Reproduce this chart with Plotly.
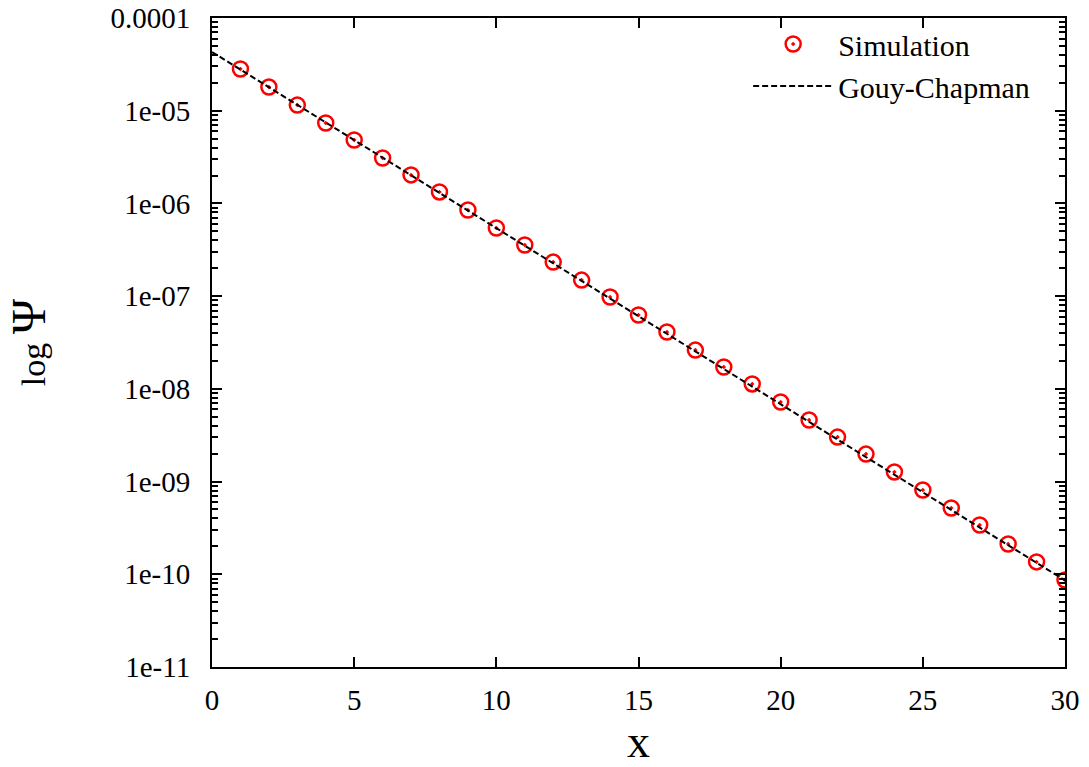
import plotly.graph_objects as go

# Simulation data
sim_x = list(range(1, 31))
sim_y = [2.82e-5, 1.80e-5, 1.15e-5, 7.37e-6, 4.83e-6, 3.09e-6, 2.03e-6, 1.33e-6,
         8.49e-7, 5.43e-7, 3.56e-7, 2.33e-7, 1.49e-7, 9.78e-8, 6.26e-8, 4.10e-8,
         2.62e-8, 1.72e-8, 1.13e-8, 7.21e-9, 4.61e-9, 3.02e-9, 1.98e-9, 1.27e-9,
         8.11e-10, 5.19e-10, 3.40e-10, 2.12e-10, 1.36e-10, 8.67e-11]

# Gouy-Chapman theory line (straight on a log axis)
gc_x = [0, 30]
gc_y = [4.3e-5, 8.6e-11]

y_tickvals = [1e-4, 1e-5, 1e-6, 1e-7, 1e-8, 1e-9, 1e-10, 1e-11]
y_ticktext = ["0.0001", "1e-05", "1e-06", "1e-07", "1e-08", "1e-09", "1e-10", "1e-11"]
x_tickvals = [0, 5, 10, 15, 20, 25, 30]

FONT = "Liberation Serif"
TICK_SIZE = 29

fig = go.Figure()
fig.add_trace(go.Scatter(
    x=gc_x, y=gc_y, mode="lines", name="Gouy-Chapman", yaxis="y2",
    line=dict(color="black", width=2, dash="6px,3px"),
))
fig.add_trace(go.Scatter(
    x=sim_x, y=sim_y, mode="markers", name="Simulation",
    marker=dict(symbol="circle-open-dot", size=15, color="red",
                line=dict(color="red", width=2.5)),
))

axis_common = dict(
    showline=True, linecolor="black", linewidth=2, mirror="ticks",
    ticks="inside", tickcolor="black", tickwidth=2, ticklen=10,
    showgrid=False, zeroline=False, automargin=False,
    tickfont=dict(family=FONT, size=TICK_SIZE, color="black"),
)

fig.update_layout(
    width=1089, height=767,
    margin=dict(l=212, r=24, t=18, b=100),
    paper_bgcolor="white", plot_bgcolor="white",
    font=dict(family=FONT, color="black"),
    showlegend=True,
    legend=dict(x=0.965, y=1.0, xanchor="right", yanchor="top",
                bgcolor="rgba(0,0,0,0)", font=dict(family=FONT, size=30),
                itemwidth=80, tracegroupgap=0, traceorder="reversed"),
    xaxis=dict(range=[0, 30], tickvals=x_tickvals,
               title=dict(text="x", font=dict(family=FONT, size=46), standoff=18),
               ticklabelstandoff=6, **axis_common),
    yaxis=dict(type="log", range=[-11, -4], tickvals=y_tickvals, ticktext=y_ticktext,
               title=dict(text="log <span style='font-size:48px'>Ψ</span>",
                          font=dict(family=FONT, size=34), standoff=55),
               ticklabelstandoff=14,
               **axis_common),
    # minor log ticks (2..9 per decade), same scale as yaxis
    yaxis2=dict(type="log", range=[-11, -4], overlaying="y", anchor="x", side="left",
                dtick="D1", showticklabels=False, showline=True, linecolor="black",
                linewidth=2, mirror="ticks", ticks="inside", ticklen=6,
                tickwidth=2, tickcolor="black", showgrid=False, zeroline=False,
                automargin=False),
)

fig.write_html("out.html")
